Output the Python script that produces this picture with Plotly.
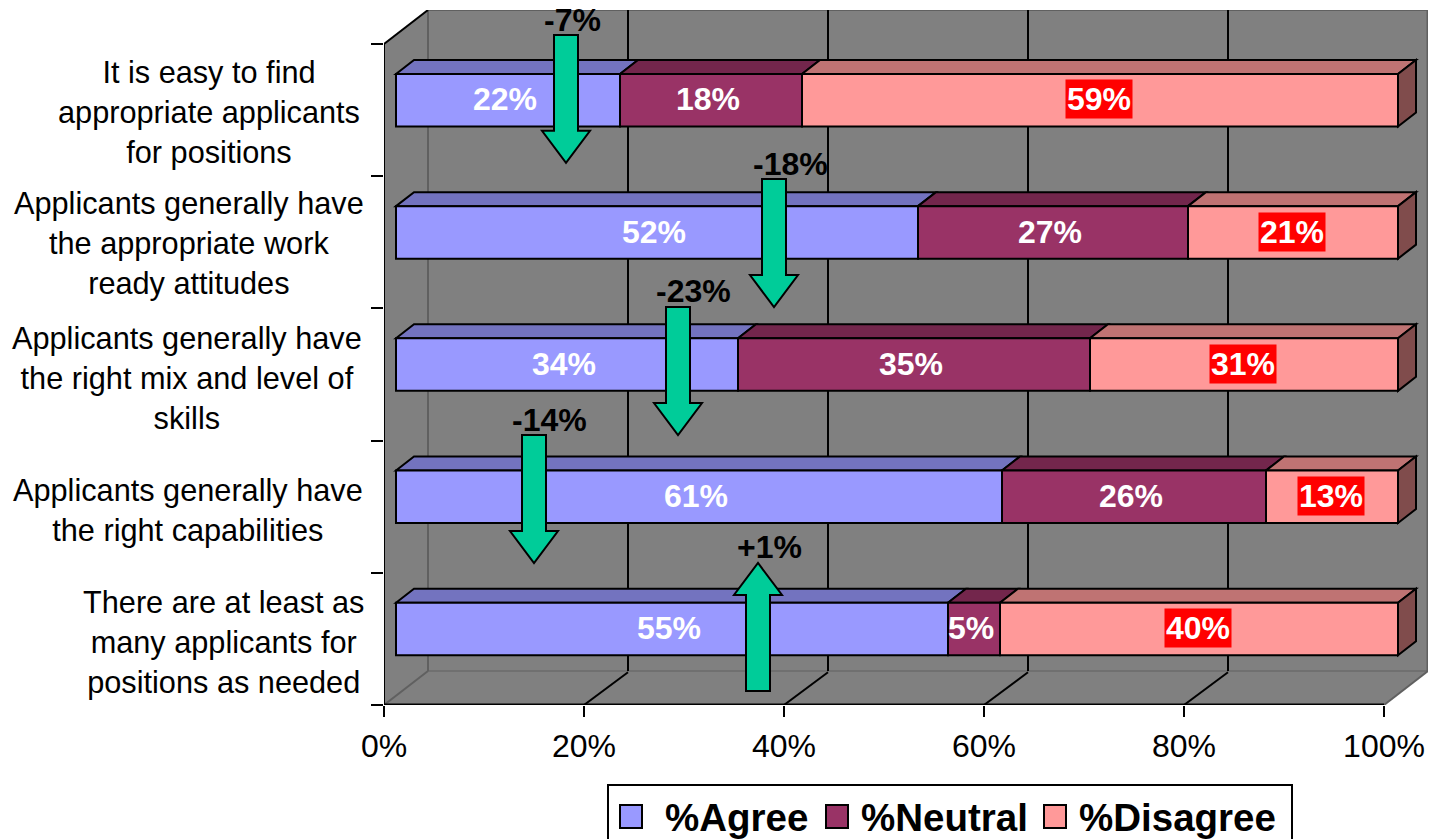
import plotly.graph_objects as go

# ---------- data (top row first) ----------
categories = [
    "It is easy to find<br>appropriate applicants<br>for positions",
    "Applicants generally have<br>the appropriate work<br>ready attitudes",
    "Applicants generally have<br>the right mix and level of<br>skills",
    "Applicants generally have<br>the right capabilities",
    "There are at least as<br>many applicants for<br>positions as needed",
]
series_names = ["%Agree", "%Neutral", "%Disagree"]
agree = [22.4, 52.2, 34.2, 60.6, 55.2]
neutral = [18.2, 27.0, 35.2, 26.4, 5.2]
disagree = [59.6, 21.0, 30.8, 13.2, 39.8]
agree_labels = ["22%", "52%", "34%", "61%", "55%"]
neutral_labels = ["18%", "27%", "35%", "26%", "5%"]
disagree_labels = ["59%", "21%", "31%", "13%", "40%"]
x_ticks = [0, 20, 40, 60, 80, 100]
x_tick_labels = ["0%", "20%", "40%", "60%", "80%", "100%"]
change_labels = ["-7%", "-18%", "-23%", "-14%", "+1%"]
arrow_at = [18.2, 39.0, 29.4, 15.0, 37.4]          # percent axis
arrow_tail = [5.068, 3.978, 3.010, 2.042, 0.106]   # row axis
arrow_tip = [4.101, 3.010, 2.042, 1.074, 1.074]    # row axis

# ---------- geometry / style ----------
W, H = 1431, 839
L, R, T, B = 384, 1428, 10, 705      # plot box in page pixels
PX_X = 10.0                          # px per percent
XMAX = (R - L) / PX_X
ROW = 132.2                          # px per row
YMAX = (B - T) / ROW
DEPTH_X, DEPTH_Y = 4.4, 34 / ROW     # depth of the box
BAR_DX, BAR_DY = 1.8, 14 / ROW       # depth of a bar
INSET = 1.2                          # bars start this far from the axis
BAR_H = 52.5 / ROW
ROW_OFFSET = 0.575
FONT = "Liberation Sans, Arial, sans-serif"
FS = 32
colors = ["#9999FF", "#993366", "#FF9999"]
tops = ["#7373BF", "#73264C", "#BF7373"]
sides = ["#4C4C80", "#4C1A33", "#804C4C"]
GREY = "#808080"
EDGE = "#606060"
ARROW = "#00CC99"
cat_center_px = [209, 189, 187, 188, 223]
cat_y_px = [112, 243, 378, 510, 642]
change_x_px = [572, 790, 693, 549, 769]
change_y_px = [20, 164, 291, 420, 547]
legend_swatch_px = [620, 826, 1044]
legend_text_px = [665, 861, 1079]

n = len(categories)
rows = [n - 1 - i + ROW_OFFSET for i in range(n)]
values = [agree, neutral, disagree]
labels = [agree_labels, neutral_labels, disagree_labels]


def xp(px):
    return (px - L) / PX_X


def yp(px):
    return (B - px) / ROW


def pap_x(px):
    return (px - L) / (R - L)


def pap_y(px):
    return (B - px) / (B - T)


def poly(points, fill, line=None, width=0, layer="below"):
    path = "M" + " L".join(f"{x:.4f},{y:.4f}" for x, y in points) + " Z"
    return dict(type="path", path=path, xref="x", yref="y", fillcolor=fill, layer=layer,
                line=dict(color=line or "rgba(0,0,0,0)", width=width))


def seg(x0, y0, x1, y1, color="black", width=2, layer="below"):
    return dict(type="line", x0=x0, y0=y0, x1=x1, y1=y1, xref="x", yref="y", layer=layer,
                line=dict(color=color, width=width))


shapes = []
# walls and floor
shapes.append(poly([(0, 0), (0, 5), (DEPTH_X, 5 + DEPTH_Y), (XMAX, 5 + DEPTH_Y),
                    (XMAX, DEPTH_Y), (100, 0)], GREY))
shapes.append(seg(DEPTH_X, DEPTH_Y, XMAX, DEPTH_Y, EDGE, 1))
shapes.append(seg(DEPTH_X, 5 + DEPTH_Y, XMAX, 5 + DEPTH_Y, EDGE, 2))
shapes.append(seg(XMAX - 0.05, DEPTH_Y, XMAX - 0.05, 5 + DEPTH_Y, EDGE, 2))
shapes.append(seg(DEPTH_X, DEPTH_Y, DEPTH_X, 5 + DEPTH_Y, EDGE, 2))
shapes.append(seg(0, 0, DEPTH_X, DEPTH_Y, EDGE, 2))
shapes.append(seg(100, 0, XMAX, DEPTH_Y, EDGE, 2))
for t in x_ticks[1:-1]:
    shapes.append(seg(t + DEPTH_X, DEPTH_Y, t + DEPTH_X, 5 + DEPTH_Y))
    shapes.append(seg(t, 0, t + DEPTH_X, DEPTH_Y - 0.01))
shapes.append(seg(0, 0, 0, 5, width=2))
shapes.append(seg(0, 5, DEPTH_X, 5 + DEPTH_Y, width=2))
shapes.append(seg(0, 0, 100, 0, width=3))

fig = go.Figure()
annotations = []
for i in range(n):
    y = rows[i]
    y0, y1 = y - BAR_H / 2, y + BAR_H / 2
    start = INSET
    for s in range(3):
        v = values[s][i]
        end = start + v
        shapes.append(poly([(start, y1), (start + BAR_DX, y1 + BAR_DY),
                            (end + BAR_DX, y1 + BAR_DY), (end, y1)], tops[s], "black", 2))
        if s == 2:
            shapes.append(poly([(end, y0), (end + BAR_DX, y0 + BAR_DY),
                                (end + BAR_DX, y1 + BAR_DY), (end, y1)], sides[s], "black", 2))
        annotations.append(dict(
            x=start + v / 2 - (0.1 if s == 2 else 0.3), y=y + 0.006, xref="x", yref="y",
            text=f"<b>{labels[s][i]}</b>",
            showarrow=False, font=dict(family=FONT, size=FS, color="white"),
            bgcolor="#FF0000" if s == 2 else None, borderpad=1 if s == 2 else 0))
        start = end

for s in range(3):
    base = [INSET + sum(values[k][i] for k in range(s)) for i in range(n)]
    fig.add_trace(go.Bar(
        orientation="h", name=series_names[s], y=rows, x=values[s], base=base, width=BAR_H,
        marker=dict(color=colors[s], line=dict(color="black", width=2)),
        showlegend=False, hoverinfo="skip"))

# change arrows
for a, tail, tip in zip(arrow_at, arrow_tail, arrow_tip):
    sign = 1 if tip > tail else -1
    neck = tip - sign * 32 / ROW
    pts = [(a - 1.2, tail), (a - 1.2, neck), (a - 2.4, neck), (a, tip),
           (a + 2.4, neck), (a + 1.2, neck), (a + 1.2, tail)]
    shapes.append(poly(pts, ARROW, "black", 2, layer="above"))

for text, cx, cy in zip(change_labels, change_x_px, change_y_px):
    annotations.append(dict(x=xp(cx), y=yp(cy), xref="x", yref="y", text=f"<b>{text}</b>",
                            showarrow=False, font=dict(family=FONT, size=FS, color="black")))

for text, cx, cy in zip(categories, cat_center_px, cat_y_px):
    annotations.append(dict(x=0, xref="paper", xshift=cx - L, y=yp(cy), yref="y", text=text,
                            xanchor="center", align="center", showarrow=False,
                            font=dict(family=FONT, size=30.7, color="black")))


# legend
def page_rect(x0, y0, x1, y1, fill, line="black", width=2):
    return dict(type="rect", xref="paper", yref="paper", x0=pap_x(x0), x1=pap_x(x1),
                y0=pap_y(y0), y1=pap_y(y1), fillcolor=fill, layer="above",
                line=dict(color=line, width=width))


shapes.append(page_rect(608, 785, 1292, 845, "white"))
for name, sx, tx, col in zip(series_names, legend_swatch_px, legend_text_px, colors):
    shapes.append(page_rect(sx, 805, sx + 22, 828, col))
    annotations.append(dict(x=pap_x(tx), y=pap_y(817), xref="paper", yref="paper",
                            text=f"<b>{name}</b>", xanchor="left", yanchor="middle", xshift=-2,
                            showarrow=False, font=dict(family=FONT, size=38.5, color="black")))

fig.update_layout(
    width=W, height=H, margin=dict(l=L, r=W - R, t=T, b=H - B),
    paper_bgcolor="white", plot_bgcolor="white", barmode="overlay",
    font=dict(family=FONT, size=FS, color="black"),
    shapes=shapes, annotations=annotations, showlegend=False,
    xaxis=dict(range=[0, XMAX], tickvals=x_ticks, ticktext=x_tick_labels, ticks="outside",
               ticklen=11, tickwidth=2, tickcolor="black", showgrid=False, zeroline=False,
               tickfont=dict(family=FONT, size=FS, color="black"), showline=False,
               ticklabelstandoff=2),
    yaxis=dict(range=[0, YMAX], tickvals=list(range(n + 1)), showticklabels=False, ticks="outside",
               ticklen=12, tickwidth=2, tickcolor="black", showgrid=False, zeroline=False,
               showline=False),
)

fig.write_html("out.html", config={"displayModeBar": False},
               post_script="document.body.style.margin='0';document.body.style.overflow='hidden';")
